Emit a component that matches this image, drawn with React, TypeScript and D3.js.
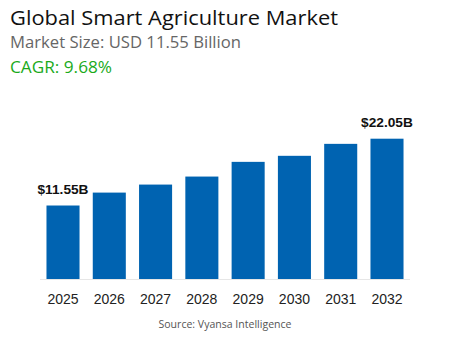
import React from "react";
import * as d3 from "d3";

const years = ["2025", "2026", "2027", "2028", "2029", "2030", "2031", "2032"];
const values = [11.55, 13.58, 14.84, 16.1, 18.41, 19.36, 21.24, 22.05];
const labels = ["$11.55B", "", "", "", "", "", "", "$22.05B"];
const title = "Global Smart Agriculture Market";
const subtitle = "Market Size: USD 11.55 Billion";
const cagr = "CAGR: 9.68%";
const source = "Source: Vyansa Intelligence";

const W = 450;
const H = 350;

export default function App() {
  const x = d3.scaleBand<string>().domain(years).range([40, 410]).paddingInner(0.286).paddingOuter(0.14);
  const y = d3.scaleLinear().domain([0, 22.05]).range([279, 138.7]);
  const font = "'Open Sans', sans-serif";
  return (
    <svg width={W} height={H} style={{ position: "absolute", left: 0, top: 0, background: "#fff" }}>
      <text x={10} y={25} fontFamily={font} fontSize={20.5} fill="#111" textLength={328} lengthAdjust="spacingAndGlyphs">{title}</text>
      <text x={10} y={48} fontFamily={font} fontSize={16.5} fill="#666" textLength={231} lengthAdjust="spacingAndGlyphs">{subtitle}</text>
      <text x={10} y={72.5} fontFamily={font} fontSize={16} fill="#1aaa1a" textLength={102} lengthAdjust="spacingAndGlyphs">{cagr}</text>
      <line x1={40} x2={410} y1={279.5} y2={279.5} stroke="#e6e6e6" strokeWidth={1} />
      {years.map((yr, i) => (
        <g key={yr}>
          <rect x={x(yr)} y={y(values[i])} width={x.bandwidth()} height={y(0) - y(values[i])} fill="#0063b1" />
          <text x={(x(yr) as number) + x.bandwidth() / 2} y={304} textAnchor="middle" fontFamily="'Liberation Sans', Arial, sans-serif" fontSize={14} fill="#222">{yr}</text>
          {labels[i] && (
            <text x={(x(yr) as number) + x.bandwidth() / 2} y={y(values[i]) - 11.5} textAnchor="middle" fontFamily="'Liberation Sans', Arial, sans-serif" fontWeight="bold" fontSize={13.7} fill="#111">{labels[i]}</text>
          )}
        </g>
      ))}
      <text x={225} y={328} textAnchor="middle" fontFamily={font} fontSize={10} fill="#555" textLength={133} lengthAdjust="spacingAndGlyphs">{source}</text>
    </svg>
  );
}
